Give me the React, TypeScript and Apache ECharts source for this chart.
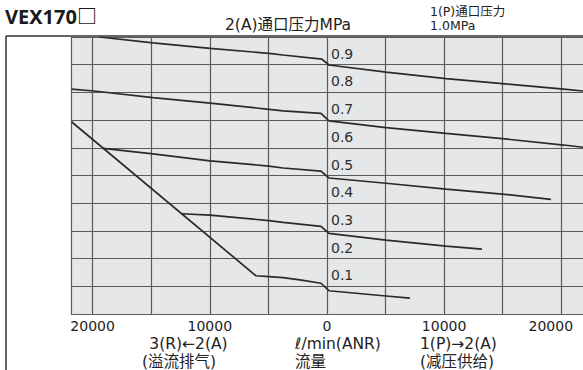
import React, { useEffect, useRef } from "react";
import * as echarts from "echarts";

// Flow (ℓ/min ANR): negative = 3(R)←2(A) exhaust, positive = 1(P)→2(A) supply
// Pressure: 2(A) port pressure MPa
const curve1: [number, number][] = [
  [-19400, 1.0], [-14850, 0.979], [-9980, 0.959], [-4950, 0.941], [-3750, 0.935],
  [-430, 0.92], [170, 0.899], [5040, 0.873], [10160, 0.85], [15200, 0.831],
  [20200, 0.812], [21850, 0.805],
];
const curve2: [number, number][] = [
  [-21800, 0.812], [-19880, 0.805], [-14850, 0.781], [-9980, 0.761], [-4950, 0.739],
  [-3750, 0.733], [-510, 0.724], [170, 0.697], [5040, 0.673], [10160, 0.652],
  [15190, 0.632], [20220, 0.61], [21850, 0.602],
];
const curve3: [number, number][] = [
  [-19110, 0.598], [-14850, 0.578], [-9980, 0.553], [-4950, 0.534], [-3750, 0.527],
  [-510, 0.516], [170, 0.491], [5040, 0.472], [10160, 0.451], [15190, 0.432],
  [19110, 0.414],
];
const curve4: [number, number][] = [
  [-12400, 0.362], [-9980, 0.357], [-4950, 0.337], [-3750, 0.331], [-510, 0.316],
  [170, 0.291], [5040, 0.267], [10160, 0.245], [13230, 0.234],
];
const curve5: [number, number][] = [
  [-21800, 0.694], [-6060, 0.138], [-4950, 0.135], [-3750, 0.131], [-2300, 0.123],
  [-510, 0.111], [170, 0.084], [5040, 0.065], [7080, 0.057],
];
const curves = [curve1, curve2, curve3, curve4, curve5];

const xGridValues = [-21800, -20000, -15000, -10000, -5000, 0, 5000, 10000, 15000, 20000];
const xLabelValues = [-20000, -10000, 0, 10000, 20000];
const pressureLabels = ["0.1", "0.2", "0.3", "0.4", "0.5", "0.6", "0.7", "0.8", "0.9"];

const GRID_COLOR = "#5a5a5a";
const TEXT_COLOR = "#222222";
const LATIN = "DejaVu Sans, Noto Sans CJK SC, sans-serif";

export default function App() {
  const ref = useRef<HTMLDivElement>(null);
  useEffect(() => {
    if (!ref.current) return;
    const chart = echarts.init(ref.current, null, { renderer: "svg" });
    const option: any = {
      animation: false,
      backgroundColor: "#ffffff",
      grid: {
        left: 71.5,
        top: 37,
        right: 0,
        bottom: 56,
        show: true,
        backgroundColor: "#e6e7e8",
        borderWidth: 0,
      },
      xAxis: {
        type: "value",
        min: -21800,
        max: 21850,
        axisLine: { show: true, onZero: false, lineStyle: { color: GRID_COLOR, width: 1.2 } },
        axisTick: { show: false, customValues: xGridValues },
        splitLine: { show: true, lineStyle: { color: GRID_COLOR, width: 1.2 } },
        axisLabel: {
          customValues: xLabelValues,
          margin: 5,
          fontSize: 14,
          fontFamily: LATIN,
          color: TEXT_COLOR,
          formatter: (v: number) =>
            v === 20000 ? "{r|" + String(Math.abs(v)) + "}" : String(Math.abs(v)),
          rich: {
            r: { padding: [0, 21, 0, 0], fontSize: 14, fontFamily: LATIN, color: TEXT_COLOR },
          },
        },
      },
      yAxis: {
        type: "value",
        min: 0,
        max: 1,
        interval: 0.1,
        position: "left",
        offset: -255.5,
        axisLine: { show: false, onZero: false },
        axisTick: { show: false },
        splitLine: { show: true, lineStyle: { color: GRID_COLOR, width: 1.2 } },
        axisLabel: {
          inside: true,
          margin: 4,
          verticalAlign: "bottom",
          fontSize: 14,
          fontFamily: LATIN,
          color: "#2e2e2e",
          formatter: (v: number) => {
            const i = Math.round(v * 10);
            return i >= 1 && i <= 9 ? "{p|" + pressureLabels[i - 1] + "}" : "";
          },
          rich: {
            p: { fontSize: 14, fontFamily: LATIN, color: "#2e2e2e", padding: [0, 0, 4, 0] },
          },
        },
      },
      series: curves.map((d) => ({
        type: "line",
        data: d,
        showSymbol: false,
        symbol: "none",
        lineStyle: { color: "#2a2a2a", width: 1.7 },
        z: 5,
      })),
      graphic: [
        { type: "line", shape: { x1: 6, y1: 36, x2: 583, y2: 36 }, style: { stroke: "#333", lineWidth: 1.5 }, z: 10 },
        { type: "line", shape: { x1: 6, y1: 36, x2: 6, y2: 370 }, style: { stroke: "#333", lineWidth: 1.5 }, z: 10 },
        {
          type: "text", x: 5, y: 16,
          style: { text: "VEX170□", font: "bold 20px 'Noto Sans', 'Noto Sans CJK SC', sans-serif", fill: "#1a1a1a", verticalAlign: "middle" },
        },
        {
          type: "text", x: 225, y: 24.5,
          style: { text: "2(A)通口压力MPa", font: "15.5px " + LATIN, fill: TEXT_COLOR, verticalAlign: "middle" },
        },
        {
          type: "text", x: 430, y: 11,
          style: { text: "1(P)通口压力", font: "12.5px " + LATIN, fill: TEXT_COLOR, verticalAlign: "middle" },
        },
        {
          type: "text", x: 430, y: 25.5,
          style: { text: "1.0MPa", font: "12.5px " + LATIN, fill: TEXT_COLOR, verticalAlign: "middle" },
        },
        {
          type: "text", x: 188.5, y: 343.5,
          style: { text: "3(R)←2(A)", font: "15.5px " + LATIN, fill: TEXT_COLOR, align: "center", verticalAlign: "middle" },
        },
        {
          type: "text", x: 142, y: 361.5,
          style: { text: "(溢流排气)", font: "15.5px " + LATIN, fill: TEXT_COLOR, verticalAlign: "middle" },
        },
        {
          type: "text", x: 295, y: 343.5,
          style: { text: "ℓ/min(ANR)", font: "15.5px " + LATIN, fill: TEXT_COLOR, verticalAlign: "middle" },
        },
        {
          type: "text", x: 295, y: 361.5,
          style: { text: "流量", font: "15.5px " + LATIN, fill: TEXT_COLOR, verticalAlign: "middle" },
        },
        {
          type: "text", x: 420, y: 343.5,
          style: { text: "1(P)→2(A)", font: "15.5px " + LATIN, fill: TEXT_COLOR, verticalAlign: "middle" },
        },
        {
          type: "text", x: 420, y: 361.5,
          style: { text: "(减压供给)", font: "15.5px " + LATIN, fill: TEXT_COLOR, verticalAlign: "middle" },
        },
      ],
    };
    chart.setOption(option);
    return () => chart.dispose();
  }, []);
  return (
    <div
      ref={ref}
      style={{ position: "fixed", left: 0, top: 0, width: 583, height: 370 }}
    />
  );
}
